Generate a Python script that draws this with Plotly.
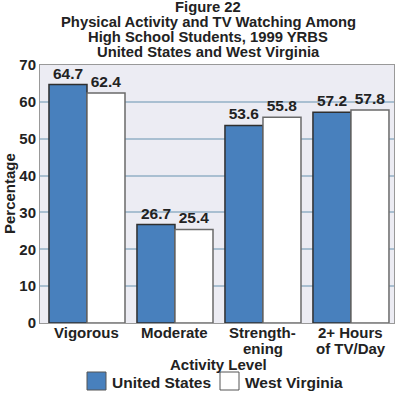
import plotly.graph_objects as go

categories = ["Vigorous", "Moderate", "Strength-<br>ening", "2+ Hours<br>of TV/Day"]
us_values = [64.7, 26.7, 53.6, 57.2]
wv_values = [62.4, 25.4, 55.8, 57.8]
series_names = ["United States", "West Virginia"]
y_ticks = [0, 10, 20, 30, 40, 50, 60, 70]
title_lines = ["Figure 22", "Physical Activity and TV Watching Among",
               "High School Students, 1999 YRBS", "United States and West Virginia"]

FONT = "Liberation Sans, Arial, sans-serif"
TXT = "#222222"
BLUE = "#4880BD"
x_idx = list(range(len(categories)))

W, H = 400, 395
L, R, T, B = 40, 6, 65, 72
PW, PH = W - L - R, H - T - B

def px(x):
    return (x - L) / PW

def py(y):
    return 1 - (y - T) / PH

fig = go.Figure()
fig.add_bar(x=x_idx, y=us_values, name=series_names[0],
            marker=dict(color=BLUE, line=dict(color="#2f2f2f", width=1.5)),
            text=[f"{v:.1f}" for v in us_values], textposition="outside",
            textfont=dict(family=FONT, size=15.5, color=TXT, weight="bold"),
            cliponaxis=False, showlegend=False)
fig.add_bar(x=x_idx, y=wv_values, name=series_names[1],
            marker=dict(color="white", line=dict(color="#6a6a6a", width=1.5)),
            text=[f"{v:.1f}" for v in wv_values], textposition="outside",
            textfont=dict(family=FONT, size=15.5, color=TXT, weight="bold"),
            cliponaxis=False, showlegend=False)

annotations = []
for line, yc in zip(title_lines, [7, 22, 37, 52]):
    annotations.append(dict(text=line, xref="paper", yref="paper", x=px(208), y=py(yc),
                            xanchor="center", yanchor="middle", showarrow=False,
                            font=dict(family=FONT, size=14.8, color=TXT, weight="bold")))
# category labels, one annotation per line for tight line spacing
for i, cat in enumerate(categories):
    for j, part in enumerate(cat.split("<br>")):
        annotations.append(dict(text=part, xref="x", yref="paper", x=i, y=py(332 + 16 * j),
                                xanchor="center", yanchor="middle", showarrow=False,
                                font=dict(family=FONT, size=15, color=TXT, weight="bold")))
annotations.append(dict(text="Percentage", xref="paper", yref="paper", x=px(9), y=py(194),
                        xanchor="center", yanchor="middle", textangle=-90, showarrow=False,
                        font=dict(family=FONT, size=15, color=TXT, weight="bold")))
annotations.append(dict(text="Activity Level", xref="paper", yref="paper", x=px(219), y=py(364),
                        xanchor="center", yanchor="middle", showarrow=False,
                        font=dict(family=FONT, size=15, color=TXT, weight="bold")))
# manual legend
legend_items = [(series_names[0], BLUE, 87, 110), (series_names[1], "white", 220, 243)]
shapes = []
for name, col, sx, tx in legend_items:
    shapes.append(dict(type="rect", xref="paper", yref="paper", x0=px(sx), x1=px(sx + 19),
                       y0=py(390), y1=py(372), fillcolor=col, line=dict(color="#555", width=1)))
    annotations.append(dict(text=name, xref="paper", yref="paper", x=px(tx), y=py(382),
                            xanchor="left", yanchor="middle", showarrow=False,
                            font=dict(family=FONT, size=15.5, color=TXT, weight="bold")))

fig.update_layout(
    width=W, height=H,
    margin=dict(l=L, r=R, t=T, b=B, autoexpand=False),
    paper_bgcolor="white", plot_bgcolor="#ECECF3",
    barmode="group", bargap=0.136, bargroupgap=0,
    font=dict(family=FONT, size=15, color=TXT),
    showlegend=False,
    annotations=annotations, shapes=shapes,
)
fig.update_xaxes(range=[-0.534, 3.489], tickvals=x_idx, showticklabels=False, showgrid=False,
                 ticks="", automargin=False,
                 showline=True, linecolor="#999", linewidth=1, mirror=True, zeroline=False)
fig.update_yaxes(range=[0, 70], tickvals=y_ticks, showgrid=True, gridcolor="#A9BFD1", gridwidth=2,
                 ticks="", tickfont=dict(family=FONT, size=15, color=TXT, weight="bold"),
                 automargin=False,
                 showline=True, linecolor="#999", linewidth=1, mirror=True, zeroline=False)

fig.write_html("out.html", config={"displayModeBar": False},
               post_script="document.body.style.margin='0';document.body.style.overflow='hidden';")
